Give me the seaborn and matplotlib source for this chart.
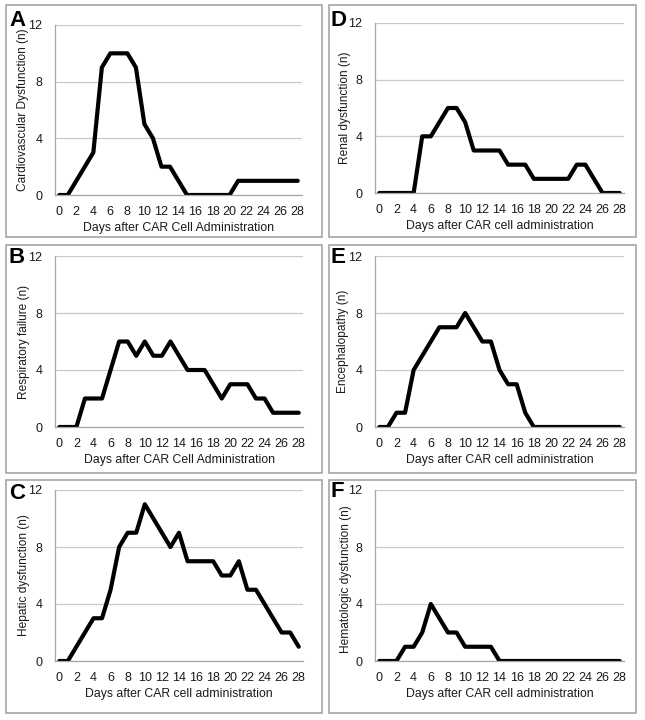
import matplotlib
matplotlib.use("Agg")
import matplotlib.pyplot as plt
import seaborn as sns
import pandas as pd
import numpy as np
from matplotlib.patches import Rectangle

days = list(range(0, 29))

cardio = [0, 0, 1, 2, 3, 9, 10, 10, 10, 9, 5, 4, 2, 2, 1, 0, 0, 0, 0, 0, 0, 1, 1, 1, 1, 1, 1, 1, 1]
respiratory = [0, 0, 0, 2, 2, 2, 4, 6, 6, 5, 6, 5, 5, 6, 5, 4, 4, 4, 3, 2, 3, 3, 3, 2, 2, 1, 1, 1, 1]
hepatic = [0, 0, 1, 2, 3, 3, 5, 8, 9, 9, 11, 10, 9, 8, 9, 7, 7, 7, 7, 6, 6, 7, 5, 5, 4, 3, 2, 2, 1]
renal = [0, 0, 0, 0, 0, 4, 4, 5, 6, 6, 5, 3, 3, 3, 3, 2, 2, 2, 1, 1, 1, 1, 1, 2, 2, 1, 0, 0, 0]
enceph = [0, 0, 1, 1, 4, 5, 6, 7, 7, 7, 8, 7, 6, 6, 4, 3, 3, 1, 0, 0, 0, 0, 0, 0, 0, 0, 0, 0, 0]
hemat = [0, 0, 0, 1, 1, 2, 4, 3, 2, 2, 1, 1, 1, 1, 0, 0, 0, 0, 0, 0, 0, 0, 0, 0, 0, 0, 0, 0, 0]

panel_letters = ["A", "B", "C", "D", "E", "F"]
ylabels = ["Cardiovascular Dysfunction (n)", "Respiratory failure (n)", "Hepatic dysfunction (n)",
           "Renal dysfunction (n)", "Encephalopathy (n)", "Hematologic dysfunction (n)"]
xlabels = ["Days after CAR Cell Administration", "Days after CAR Cell Administration",
           "Days after CAR cell administration", "Days after CAR cell administration",
           "Days after CAR cell administration", "Days after CAR cell administration"]
series = [cardio, respiratory, hepatic, renal, enceph, hemat]
yticks = [0, 4, 8, 12]
xticks = list(range(0, 29, 2))

sns.set_style("white")
plt.rcParams['font.family'] = ['Liberation Sans', 'DejaVu Sans']

W, H = 645, 720
fig = plt.figure(figsize=(W / 100, H / 100), dpi=100)

# axes pixel boxes (left, top, right, bottom)
ax_px = [(55, 25, 302, 195), (55, 256, 303, 427), (55, 490, 303, 661),
         (375, 23, 624, 193), (375, 256, 624, 427), (375, 490, 624, 661)]
box_px = [(6, 5, 322, 237), (6, 245, 322, 473), (6, 480, 322, 713),
          (329, 5, 636, 237), (329, 245, 636, 473), (329, 480, 636, 713)]
letter_px = [(9, 10), (9, 247), (9, 483), (331, 10), (331, 247), (330, 481)]
ylabel_x_px = [23, 24, 24, 345, 343, 346]
ylabel_y_off = [0, 0, 0, 0, 0, -4]

for (l, t, r, b) in box_px:
    fig.patches.append(Rectangle((l / W, 1 - b / H), (r - l) / W, (b - t) / H,
                                 transform=fig.transFigure, fill=False,
                                 edgecolor="#a6a6a6", linewidth=1.2))

grey = "#a6a6a6"
txt = "#1a1a1a"
for i in range(6):
    l, t, r, b = ax_px[i]
    ax = fig.add_axes([l / W, 1 - b / H, (r - l) / W, (b - t) / H])
    df = pd.DataFrame({"day": days, "n": series[i]})
    sns.lineplot(data=df, x="day", y="n", ax=ax, color="black", linewidth=3.0)
    ax.set_xlim(-0.5, 28.5)
    ax.set_ylim(0, 12)
    ax.set_yticks(yticks)
    ax.set_xticks(xticks)
    ax.set_xticks(np.arange(-0.5, 29, 1), minor=True)
    ax.yaxis.grid(True, color="#c8c8c8", linewidth=0.9)
    ax.set_axisbelow(True)
    for s in ["top", "right"]:
        ax.spines[s].set_visible(False)
    for s in ["left", "bottom"]:
        ax.spines[s].set_color(grey)
        ax.spines[s].set_linewidth(0.9)
    ax.tick_params(axis="x", which="major", length=0, labelsize=9, pad=8, labelcolor=txt)
    ax.tick_params(axis="x", which="minor", length=3, color=grey, width=0.8, direction="out")
    ax.tick_params(axis="y", which="major", length=3, color=grey, width=0.8, direction="out",
                   labelsize=9, pad=6, labelcolor=txt)
    ax.set_xlabel(xlabels[i], fontsize=8.8, color=txt, labelpad=3)
    ax.set_ylabel(ylabels[i], fontsize=8.6, color=txt, va="center")
    ax.yaxis.set_label_coords((ylabel_x_px[i] - l) / (r - l),
                              0.5 + ylabel_y_off[i] / (b - t))
    lx, ly = letter_px[i]
    fig.text(lx / W, 1 - ly / H, panel_letters[i], fontsize=16, fontweight="bold",
             ha="left", va="top", color="black")

fig.savefig("out.png", dpi=100)
